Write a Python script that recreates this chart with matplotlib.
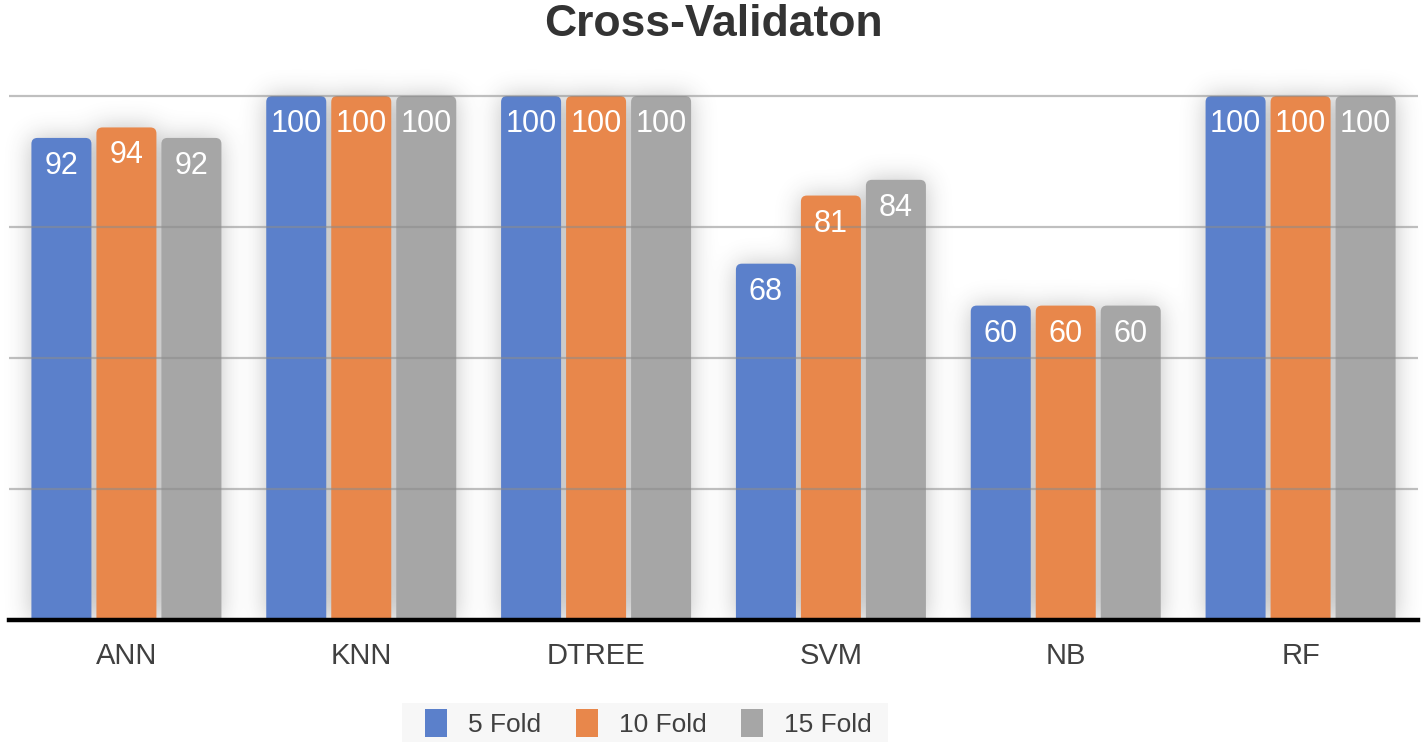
import matplotlib

matplotlib.use("Agg")
import matplotlib.pyplot as plt
from matplotlib.patches import FancyBboxPatch, Patch, Rectangle
import numpy as np

plt.rcParams["font.family"] = ["Liberation Sans", "DejaVu Sans"]

categories = ["ANN", "KNN", "DTREE", "SVM", "NB", "RF"]
series_names = ["5 Fold", "10 Fold", "15 Fold"]
fold5 = [92, 100, 100, 68, 60, 100]
fold10 = [94, 100, 100, 81, 60, 100]
fold15 = [92, 100, 100, 84, 60, 100]
colors = ["#5b80cb", "#e8874b", "#a6a6a6"]

W, H = 1427, 742
fig = plt.figure(figsize=(W / 100, H / 100), dpi=100)

# axes placed so that y=0 sits at px 620 and y=100 at px 96 (image coords)
ax_left, ax_right = 9, 1418
y0_px, y100_px = 620, 96
px_per_unit = (y0_px - y100_px) / 100.0
ytop = 112
top_px = y0_px - ytop * px_per_unit
ax = fig.add_axes([ax_left / W, 1 - y0_px / H, (ax_right - ax_left) / W, (y0_px - top_px) / H])
ax.set_xlim(-0.5, 5.5)
ax.set_ylim(0, ytop)
ax.patch.set_visible(False)

px_per_x = (ax_right - ax_left) / 6.0
aspect = px_per_x / px_per_unit

offset = 65 / px_per_x
width = 60 / px_per_x
rad = 6 / px_per_x

x = np.arange(len(categories))
mask = np.zeros((H, W))
for s, (vals, col) in enumerate(zip([fold5, fold10, fold15], colors)):
    for i, v in enumerate(vals):
        xc = x[i] + (s - 1) * offset
        bar = FancyBboxPatch((xc - width / 2, -3), width, v + 3,
                             boxstyle=f"round,pad=0,rounding_size={rad}",
                             mutation_aspect=aspect, fc=col, ec="none", zorder=2)
        ax.add_patch(bar)
        ax.text(xc, v - 28 / px_per_unit, str(v), ha="center", va="center",
                color="white", fontsize=22, zorder=4)
        # footprint of the bar in pixels for the soft shadow
        (px0, py0), (px1, py1) = ax.transData.transform([(xc - width / 2, 0), (xc + width / 2, v)])
        r0, r1 = int(round(H - py1)), int(round(H - py0))
        mask[r0:r1, int(round(px0)):int(round(px1))] = 1.0

# gaussian blur of the bar footprint -> shadow
sig = 12
k = np.arange(-3 * sig, 3 * sig + 1)
kern = np.exp(-0.5 * (k / sig) ** 2)
kern /= kern.sum()
blur = np.apply_along_axis(lambda r: np.convolve(r, kern, mode="same"), 1, mask)
blur = np.apply_along_axis(lambda c: np.convolve(c, kern, mode="same"), 0, blur)
blur[int(y0_px):, :] = 0
shadow = np.zeros((H, W, 4))
shadow[..., :3] = 0.25
shadow[..., 3] = 0.32 * blur
fig.figimage(shadow, xo=0, yo=0, origin="upper", zorder=-1)

for g in [25, 50, 75, 100]:
    ax.axhline(g, color="#8c8c8c", lw=1.6, alpha=0.55, zorder=3)
ax.axhline(0, color="black", lw=3.2, zorder=5, clip_on=False)

for sp in ax.spines.values():
    sp.set_visible(False)
ax.set_yticks([])
ax.set_xticks(x)
ax.set_xticklabels(categories, fontsize=21, color="#404040")
ax.tick_params(axis="x", length=0, pad=16)

fig.text(0.5, 1 - 36 / H, "Cross-Validaton", ha="center", va="baseline",
         fontsize=32, fontweight="bold", color="#333333")

# legend background strip
fig.patches.append(Rectangle((402 / W, 0), (888 - 402) / W, 39 / H,
                             transform=fig.transFigure, fc="#f7f7f7", ec="none", zorder=0))
handles = [Patch(fc=c, ec="none") for c in colors]
leg = fig.legend(handles, series_names, loc="lower left", bbox_to_anchor=(420 / W, 0.0),
                 ncol=3, fontsize=19, frameon=False,
                 handlelength=0.83, handleheight=1.25, handletextpad=0.8,
                 columnspacing=1.3, borderpad=0.2, borderaxespad=0)
for t in leg.get_texts():
    t.set_color("#404040")

fig.savefig("out.png", dpi=100)
